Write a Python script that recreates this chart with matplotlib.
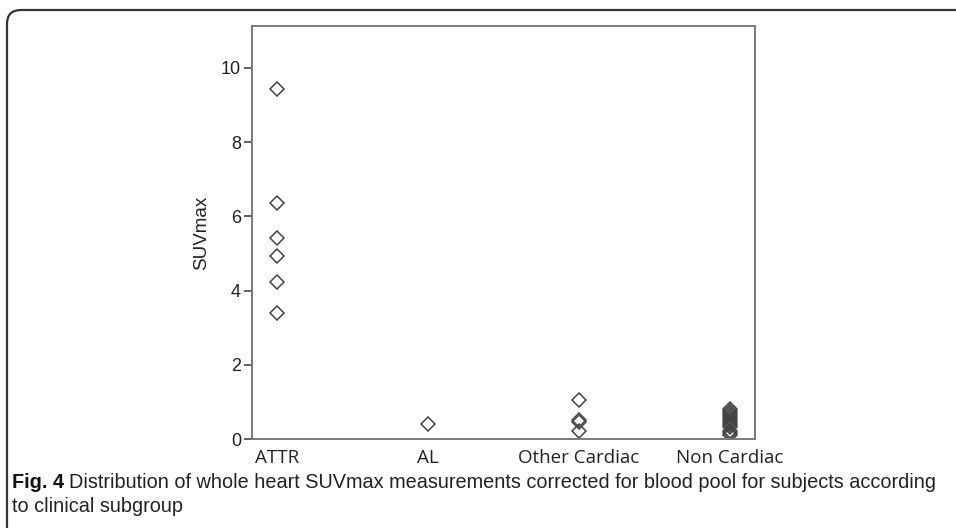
import matplotlib
matplotlib.use("Agg")
import matplotlib.pyplot as plt
from matplotlib.path import Path
from matplotlib.patches import PathPatch

categories = ["ATTR", "AL", "Other Cardiac", "Non Cardiac"]
attr_vals = [9.43, 6.36, 5.43, 4.92, 4.23, 3.40]
al_vals = [0.40]
other_vals = [1.05, 0.52, 0.47, 0.22]
non_vals = [0.82, 0.76, 0.70, 0.64, 0.58, 0.53, 0.48, 0.43, 0.38, 0.32, 0.22, 0.16, 0.12]
series = [attr_vals, al_vals, other_vals, non_vals]
yticks = [0, 2, 4, 6, 8, 10]

fig = plt.figure(figsize=(9.56, 5.28), dpi=100)
W, H = 956, 528
ax = fig.add_axes([252 / W, (528 - 439) / H, (755 - 252) / W, (439 - 26) / H])

for i, vals in enumerate(series):
    ax.plot([i] * len(vals), vals, linestyle="none", marker="D", ms=7.5,
            mfc="none", mec="#444444", mew=1.1)

ax.set_xlim(-0.166, 3.166)
ax.set_ylim(0, 11.13)
ax.set_yticks(yticks)
ax.set_yticklabels([str(t) for t in yticks], fontfamily="Liberation Sans",
                   fontsize=13, color="#222222")
ax.set_xticks(range(len(categories)))
ax.set_xticklabels(categories, fontfamily="Open Sans", fontsize=13.5, color="#222222")
ax.tick_params(axis="x", length=0, pad=7)
ax.tick_params(axis="y", length=6, width=1.3, color="#555555", pad=2)
for s in ax.spines.values():
    s.set_color("#7a7a7a")
    s.set_linewidth(1.4)
ax.set_ylabel("SUVmax", fontfamily="Liberation Sans", fontsize=13.5, color="#222222",
              labelpad=8)

# Outer frame (top + left, rounded corner)
def fx(x):
    return x / W
def fy(y):
    return 1 - y / H
r = 14
verts = [(fx(W + 5), fy(10)), (fx(7 + r), fy(10)), (fx(7), fy(10)), (fx(7), fy(10 + r)),
         (fx(7), fy(H + 5))]
codes = [Path.MOVETO, Path.LINETO, Path.CURVE3, Path.CURVE3, Path.LINETO]
fig.patches.append(PathPatch(Path(verts, codes), transform=fig.transFigure,
                             fill=False, edgecolor="#333333", lw=1.6))

cap_font = ["Liberation Sans"]
cap_size = 14.3
t1 = fig.text(12 / W, fy(482), "Fig. 4", fontfamily=cap_font, fontweight="bold",
              fontsize=cap_size, va="center", ha="left", color="#111111")
fig.canvas.draw()
bb = t1.get_window_extent()
fig.text((bb.x1 + 5) / W, fy(482),
         "Distribution of whole heart SUVmax measurements corrected for blood pool for subjects according",
         fontfamily=cap_font, fontsize=cap_size, va="center", ha="left", color="#222222")
fig.text(12 / W, fy(507), "to clinical subgroup", fontfamily=cap_font, fontsize=cap_size,
         va="center", ha="left", color="#222222")

fig.savefig("out.png", dpi=100)
